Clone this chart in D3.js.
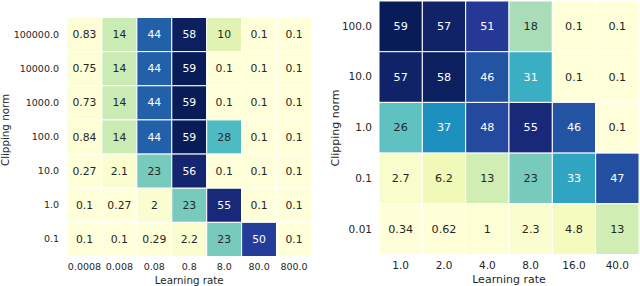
<!DOCTYPE html>
<html>
<head>
<meta charset="utf-8">
<script src="https://cdn.jsdelivr.net/npm/d3@7"></script>
<style>
  body { margin: 0; background: #fff; }
  svg { display: block; font-family: "DejaVu Sans", sans-serif; }
</style>
</head>
<body>
<svg id="chart" width="640" height="286"></svg>
<script>
// left panel
const leftLr = ["0.0008", "0.008", "0.08", "0.8", "8.0", "80.0", "800.0"];
const leftClip = ["100000.0", "10000.0", "1000.0", "100.0", "10.0", "1.0", "0.1"];
const leftValues = [
  [0.83, 14, 44, 58, 10, 0.1, 0.1],
  [0.75, 14, 44, 59, 0.1, 0.1, 0.1],
  [0.73, 14, 44, 59, 0.1, 0.1, 0.1],
  [0.84, 14, 44, 59, 28, 0.1, 0.1],
  [0.27, 2.1, 23, 56, 0.1, 0.1, 0.1],
  [0.1, 0.27, 2, 23, 55, 0.1, 0.1],
  [0.1, 0.1, 0.29, 2.2, 23, 50, 0.1]
];

// right panel
const rightLr = ["1.0", "2.0", "4.0", "8.0", "16.0", "40.0"];
const rightClip = ["100.0", "10.0", "1.0", "0.1", "0.01"];
const rightValues = [
  [59, 57, 51, 18, 0.1, 0.1],
  [57, 58, 46, 31, 0.1, 0.1],
  [26, 37, 48, 55, 46, 0.1],
  [2.7, 6.2, 13, 23, 33, 47],
  [0.34, 0.62, 1, 2.3, 4.8, 13]
];

// matplotlib YlGnBu anchors
const ylgnbu = ["#ffffd9", "#edf8b1", "#c7e9b4", "#7fcdbb", "#41b6c4",
                "#1d91c0", "#225ea8", "#253494", "#081d58"];

const svg = d3.select("#chart");

function luminance(c) {
  const rgb = d3.rgb(c);
  const lin = v => {
    v /= 255;
    return v <= 0.03928 ? v / 12.92 : Math.pow((v + 0.055) / 1.055, 2.4);
  };
  return 0.2126 * lin(rgb.r) + 0.7152 * lin(rgb.g) + 0.0722 * lin(rgb.b);
}

function fmt(v) {
  // seaborn's ".2g"
  return d3.format(".2~g")(v);
}

function heatmap(o) {
  const flat = o.values.flat();
  const lo = d3.min(flat), hi = d3.max(flat);
  const color = d3.scaleLinear()
    .domain(d3.range(ylgnbu.length).map(i => lo + (hi - lo) * i / (ylgnbu.length - 1)))
    .range(ylgnbu)
    .interpolate(d3.interpolateRgb);

  const x = d3.scaleBand().domain(o.cols).range([o.x0, o.x1]);
  const y = d3.scaleBand().domain(o.rows).range([o.y0, o.y1]);

  const g = svg.append("g");
  const cells = [];
  o.values.forEach((row, i) => row.forEach((v, j) => cells.push({ r: o.rows[i], c: o.cols[j], v })));

  g.selectAll("rect.cell").data(cells).enter().append("rect")
    .attr("class", "cell")
    .attr("x", d => x(d.c))
    .attr("y", d => y(d.r))
    .attr("width", x.bandwidth())
    .attr("height", y.bandwidth())
    .attr("fill", d => color(d.v))
    .attr("stroke", "#fff")
    .attr("stroke-width", 1);

  g.selectAll("text.annot").data(cells).enter().append("text")
    .attr("class", "annot")
    .attr("x", d => x(d.c) + x.bandwidth() / 2)
    .attr("y", d => y(d.r) + y.bandwidth() / 2)
    .attr("text-anchor", "middle")
    .attr("dominant-baseline", "central")
    .attr("font-size", o.annotSize)
    .attr("fill", d => luminance(color(d.v)) > 0.408 ? "#262626" : "#fff")
    .text(d => fmt(d.v));

  // axes, no tick lines
  const xAxis = g.append("g").attr("transform", `translate(0,${o.y1})`)
    .call(d3.axisBottom(x).tickSize(0).tickPadding(o.xPad));
  const yAxis = g.append("g").attr("transform", `translate(${o.x0},0)`)
    .call(d3.axisLeft(y).tickSize(0).tickPadding(o.yPad));
  [xAxis, yAxis].forEach(a => {
    a.select(".domain").remove();
    a.selectAll("text").attr("font-size", o.tickSize).attr("fill", "#262626")
      .attr("font-family", "DejaVu Sans, sans-serif");
  });

  g.append("text")
    .attr("x", (o.x0 + o.x1) / 2)
    .attr("y", o.xLabelY)
    .attr("text-anchor", "middle")
    .attr("font-size", o.labelSize)
    .attr("fill", "#262626")
    .text("Learning rate");

  g.append("text")
    .attr("transform", `translate(${o.yLabelX},${o.yLabelY}) rotate(-90)`)
    .attr("text-anchor", "middle")
    .attr("dominant-baseline", "central")
    .attr("font-size", o.labelSize)
    .attr("fill", "#262626")
    .text("Clipping norm");
}

heatmap({
  rows: leftClip, cols: leftLr, values: leftValues,
  x0: 67, x1: 311.5, y0: 17.5, y1: 256.5,
  annotSize: 10.8, tickSize: 9.5, labelSize: 10.3,
  xPad: 7, yPad: 8, xLabelY: 284, yLabelX: 5, yLabelY: 130
});

heatmap({
  rows: rightClip, cols: rightLr, values: rightValues,
  x0: 379, x1: 639, y0: 1, y1: 254.5,
  annotSize: 11.2, tickSize: 10.5, labelSize: 11,
  xPad: 7, yPad: 7, xLabelY: 283, yLabelX: 335, yLabelY: 128
});
</script>
</body>
</html>
